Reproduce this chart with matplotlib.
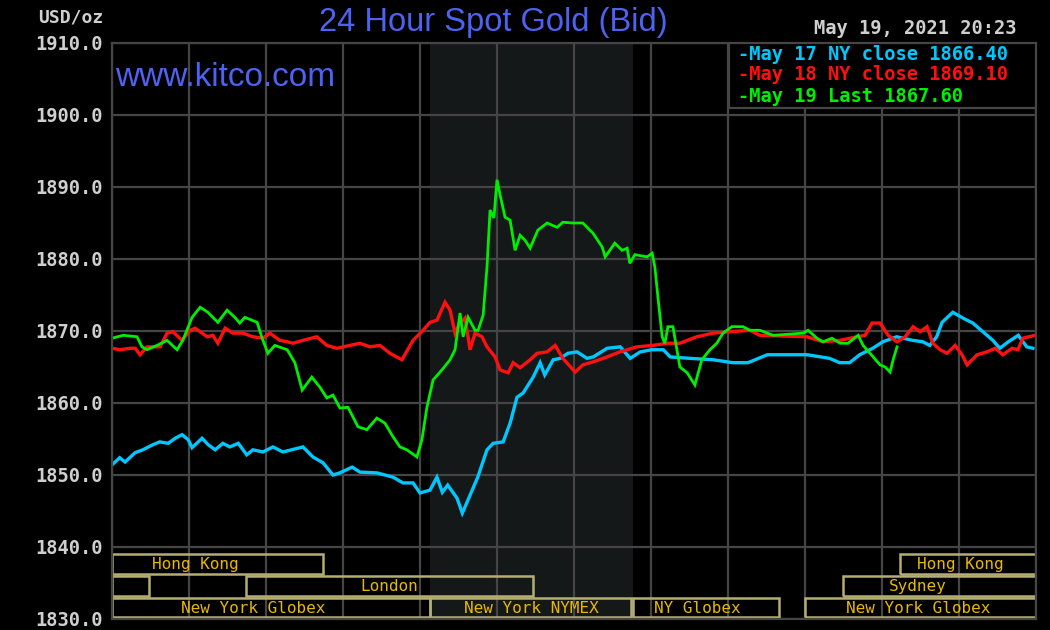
import matplotlib
matplotlib.use("Agg")
import matplotlib.pyplot as plt
from matplotlib.patches import Rectangle

# ---------------- data (hours of day, USD/oz) ----------------
may17_t = [0.00, 0.20, 0.34, 0.60, 0.80, 1.06, 1.24, 1.46, 1.64, 1.82,
           1.98, 2.08, 2.34, 2.50, 2.68, 2.88, 3.06, 3.28, 3.50, 3.66,
           3.92, 4.18, 4.44, 4.96, 5.22, 5.48, 5.74, 5.92, 6.24, 6.44,
           6.88, 7.30, 7.56, 7.82, 8.00, 8.26, 8.44, 8.58, 8.72, 8.96,
           9.10, 9.30, 9.50, 9.74, 9.90, 10.16, 10.34, 10.52, 10.68, 10.94,
           11.12, 11.24, 11.46, 11.64, 11.84, 12.08, 12.34, 12.50, 12.86, 13.20,
           13.46, 13.72, 14.02, 14.32, 14.50, 15.02, 15.62, 16.12, 16.52, 17.02,
           18.06, 18.64, 18.90, 19.16, 19.42, 19.76, 20.02, 20.38, 20.80, 21.06,
           21.24, 21.42, 21.56, 21.84, 22.10, 22.36, 22.62, 22.88, 23.06, 23.28,
           23.54, 23.76, 23.92]
may17_v = [1851.4, 1852.4, 1851.8, 1853.1, 1853.5, 1854.2, 1854.6, 1854.4, 1855.1, 1855.6,
           1854.9, 1853.8, 1855.1, 1854.2, 1853.5, 1854.4, 1853.9, 1854.4, 1852.8, 1853.5,
           1853.2, 1853.9, 1853.2, 1853.9, 1852.5, 1851.7, 1850.0, 1850.3, 1851.1, 1850.4,
           1850.3, 1849.7, 1848.9, 1848.9, 1847.5, 1847.9, 1849.7, 1847.6, 1848.6, 1846.8,
           1844.7, 1847.2, 1849.7, 1853.5, 1854.4, 1854.6, 1857.2, 1860.8, 1861.4, 1863.6,
           1865.6, 1863.9, 1866.0, 1866.2, 1866.9, 1867.1, 1866.2, 1866.4, 1867.6, 1867.8,
           1866.2, 1867.1, 1867.4, 1867.4, 1866.4, 1866.2, 1866.0, 1865.6, 1865.6, 1866.7,
           1866.7, 1866.2, 1865.6, 1865.6, 1866.7, 1867.6, 1868.5, 1869.2, 1868.7, 1868.5,
           1868.0, 1869.2, 1871.2, 1872.6, 1871.8, 1871.1, 1869.9, 1868.7, 1867.6, 1868.5,
           1869.4, 1867.8, 1867.6]

may18_t = [0.00, 0.21, 0.47, 0.60, 0.73, 0.91, 1.25, 1.43, 1.58, 1.82,
           2.03, 2.16, 2.29, 2.47, 2.62, 2.75, 2.94, 3.14, 3.40, 3.66,
           3.92, 4.10, 4.36, 4.55, 4.70, 4.96, 5.32, 5.58, 5.84, 6.18,
           6.44, 6.70, 6.96, 7.22, 7.53, 7.82, 8.08, 8.26, 8.44, 8.65,
           8.78, 8.91, 9.04, 9.17, 9.30, 9.43, 9.61, 9.74, 9.95, 10.08,
           10.29, 10.42, 10.60, 10.86, 11.04, 11.30, 11.51, 11.71, 12.03, 12.23,
           12.49, 12.86, 13.19, 13.64, 14.05, 14.42, 14.75, 15.19, 15.61, 16.05,
           16.57, 16.83, 18.05, 18.47, 18.91, 19.35, 19.56, 19.74, 19.95, 20.16,
           20.39, 20.60, 20.81, 20.99, 21.17, 21.32, 21.51, 21.69, 21.90, 22.08,
           22.21, 22.47, 22.73, 22.94, 23.14, 23.38, 23.53, 23.66, 23.97]
may18_v = [1867.6, 1867.4, 1867.6, 1867.6, 1866.7, 1867.8, 1867.8, 1869.7, 1869.9, 1868.7,
           1870.1, 1870.4, 1869.9, 1869.2, 1869.4, 1868.3, 1870.4, 1869.7, 1869.7, 1869.2,
           1869.0, 1869.7, 1868.7, 1868.5, 1868.3, 1868.7, 1869.2, 1868.0, 1867.6, 1868.0,
           1868.3, 1867.8, 1868.0, 1866.9, 1866.0, 1868.7, 1870.1, 1871.2, 1871.5, 1874.0,
           1872.9, 1869.7, 1871.1, 1871.8, 1867.4, 1869.7, 1869.2, 1867.8, 1866.4, 1864.6,
           1864.2, 1865.6, 1864.9, 1866.0, 1866.9, 1867.1, 1868.0, 1866.2, 1864.3, 1865.3,
           1865.7, 1866.4, 1867.1, 1867.8, 1868.0, 1868.3, 1868.3, 1869.2, 1869.7, 1869.9,
           1870.1, 1869.4, 1869.2, 1868.5, 1868.7, 1869.2, 1869.4, 1871.1, 1871.1, 1869.4,
           1868.5, 1869.2, 1870.6, 1869.9, 1870.6, 1868.3, 1867.4, 1866.9, 1868.0, 1866.7,
           1865.3, 1866.7, 1867.1, 1867.6, 1866.7, 1867.6, 1867.4, 1869.0, 1869.4]

may19_t = [0.00, 0.29, 0.65, 0.78, 0.91, 1.17, 1.43, 1.69, 1.84, 2.08,
           2.29, 2.49, 2.75, 2.99, 3.19, 3.32, 3.45, 3.77, 3.90, 4.05,
           4.23, 4.55, 4.75, 4.94, 5.19, 5.40, 5.58, 5.74, 5.92, 6.13,
           6.39, 6.62, 6.88, 7.09, 7.30, 7.48, 7.66, 7.92, 8.05, 8.18,
           8.34, 8.57, 8.78, 8.91, 9.04, 9.12, 9.25, 9.43, 9.51, 9.64,
           9.74, 9.82, 9.92, 10.00, 10.08, 10.21, 10.34, 10.47, 10.60, 10.73,
           10.86, 11.06, 11.30, 11.56, 11.71, 11.97, 12.23, 12.49, 12.73, 12.81,
           13.06, 13.25, 13.38, 13.45, 13.58, 13.90, 14.03, 14.10, 14.18, 14.29,
           14.36, 14.44, 14.57, 14.75, 14.94, 15.14, 15.32, 15.53, 15.71, 15.87,
           16.10, 16.39, 16.57, 16.83, 17.17, 17.95, 18.08, 18.31, 18.47, 18.70,
           18.91, 19.12, 19.38, 19.51, 19.77, 19.95, 20.08, 20.21, 20.29, 20.39]
may19_v = [1869.0, 1869.4, 1869.2, 1867.8, 1867.4, 1868.0, 1868.7, 1867.4, 1868.7, 1871.9,
           1873.3, 1872.6, 1871.2, 1872.9, 1871.9, 1871.1, 1871.9, 1871.2, 1869.0, 1866.9,
           1868.0, 1867.4, 1865.6, 1861.8, 1863.6, 1862.2, 1860.7, 1861.1, 1859.3, 1859.4,
           1856.7, 1856.3, 1857.9, 1857.2, 1855.3, 1853.9, 1853.5, 1852.5, 1854.9, 1859.4,
           1863.2, 1864.6, 1866.0, 1867.4, 1872.5, 1869.2, 1871.9, 1870.1, 1870.1, 1872.2,
           1878.9, 1886.8, 1885.7, 1891.0, 1888.9, 1885.8, 1885.4, 1881.2, 1883.3, 1882.6,
           1881.5, 1884.0, 1885.0, 1884.4, 1885.1, 1885.0, 1885.0, 1883.6, 1881.7, 1880.3,
           1882.2, 1881.2, 1881.5, 1879.4, 1880.6, 1880.3, 1880.8, 1878.9, 1874.7, 1869.2,
           1868.3, 1870.6, 1870.6, 1865.0, 1864.2, 1862.5, 1866.0, 1867.4, 1868.3, 1869.7,
           1870.6, 1870.6, 1870.1, 1870.1, 1869.4, 1869.7, 1870.1, 1869.0, 1868.5, 1869.0,
           1868.3, 1868.3, 1869.4, 1868.0, 1866.4, 1865.3, 1865.0, 1864.3, 1866.0, 1867.8]

legend_labels = ["-May 17 NY close 1866.40",
                 "-May 18 NY close 1869.10",
                 "-May 19 Last 1867.60"]
series_colors = ["#00c8ff", "#ff1010", "#00ee00"]
series_widths = [2.4, 2.4, 2.0]

y_ticks = [1830, 1840, 1850, 1860, 1870, 1880, 1890, 1900, 1910]
x_grid = list(range(0, 25, 2))
nymex_span = (8.27, 13.52)

# market sessions: name, start, end, row (0 = top), label centre
session_names = ["Hong Kong", "", "London", "New York Globex", "New York NYMEX",
                 "NY Globex", "New York Globex", "Sydney", "Hong Kong"]
session_start = [0.0, 0.0, 3.48, 0.0, 8.27, 13.52, 18.0, 18.98, 20.47]
session_end = [5.48, 0.96, 10.94, 8.27, 13.47, 17.32, 24.5, 24.5, 24.5]
session_row = [0, 1, 1, 2, 2, 2, 2, 1, 0]
session_label_x = [2.16, 0.0, 7.2, 3.66, 10.9, 15.2, 20.94, 20.94, 22.03]
row_bottom = [1836.2, 1833.2, 1830.3]
row_top = [1839.0, 1836.0, 1832.9]

# ---------------- figure ----------------
W, H = 1050, 630
fig = plt.figure(figsize=(W / 100, H / 100), dpi=100, facecolor="black")
ax = fig.add_axes([112 / W, 1 - 619 / H, 924 / W, 576 / H], facecolor="black")
ax.set_xlim(0, 24)
ax.set_ylim(1830, 1910)

grid_c = "#454545"
ax.set_xticks(x_grid)
ax.set_yticks(y_ticks)
ax.grid(True, color=grid_c, linewidth=1.6, zorder=1)
ax.tick_params(axis="both", length=0)
ax.set_xticklabels([])
mono = "DejaVu Sans Mono"
ax.set_yticklabels([f"{v:.1f}" for v in y_ticks], fontfamily=mono,
                   fontweight="bold", fontsize=13.5, color="#cfcfcf")
ax.tick_params(axis="y", pad=7)
for s in ax.spines.values():
    s.set_color(grid_c)
    s.set_linewidth(1.6)
    s.set_zorder(12)

ax.axvspan(*nymex_span, color="#151818", zorder=0.5, lw=0)

for t, v, c, w in zip([may17_t, may18_t, may19_t], [may17_v, may18_v, may19_v],
                      series_colors, series_widths):
    ax.plot(t, v, color=c, linewidth=w, zorder=4, solid_joinstyle="miter")

# sessions
box_c = "#b4ae72"
for name, s0, s1, r, lx in zip(session_names, session_start, session_end,
                              session_row, session_label_x):
    rect = Rectangle((s0, row_bottom[r]), s1 - s0, row_top[r] - row_bottom[r],
                     facecolor="none", edgecolor=box_c, linewidth=1.8, zorder=6,
                     clip_on=True)
    ax.add_patch(rect)
    if name:
        ax.text(lx, (row_bottom[r] + row_top[r]) / 2 - 0.1, name, ha="center",
                va="center", fontfamily=mono, fontsize=11.5, color="#e8b800",
                zorder=7)

# legend box
ax.add_patch(Rectangle(((729 - 112) / 924, (619 - 108) / 576), 1.0, 1.0,
                       transform=ax.transAxes, facecolor="black",
                       edgecolor=grid_c, linewidth=1.6, zorder=8, clip_on=True))
for i, (lab, c) in enumerate(zip(legend_labels, series_colors)):
    fig.text(738 / W, 1 - (54 + 21 * i) / H, lab, ha="left", va="center",
             fontfamily=mono, fontweight="bold", fontsize=13.5, color=c, zorder=9)

# texts
fig.text(493 / W, 1 - 23 / H, "24 Hour Spot Gold (Bid)", ha="center", va="center",
         fontfamily="Liberation Sans", fontsize=23.5, color="#4e62f2")
fig.text(115 / W, 1 - 78 / H, "www.kitco.com", ha="left", va="center",
         fontfamily="Liberation Sans", fontsize=24, color="#4e62f2", zorder=9)
fig.text(1016 / W, 1 - 29 / H, "May 19, 2021 20:23", ha="right", va="center",
         fontfamily=mono, fontweight="bold", fontsize=13.5, color="#cfcfcf")
fig.text(103 / W, 1 - 18 / H, "USD/oz", ha="right", va="center",
         fontfamily=mono, fontweight="bold", fontsize=13, color="#cfcfcf")

fig.savefig("out.png", dpi=100, facecolor="black")
